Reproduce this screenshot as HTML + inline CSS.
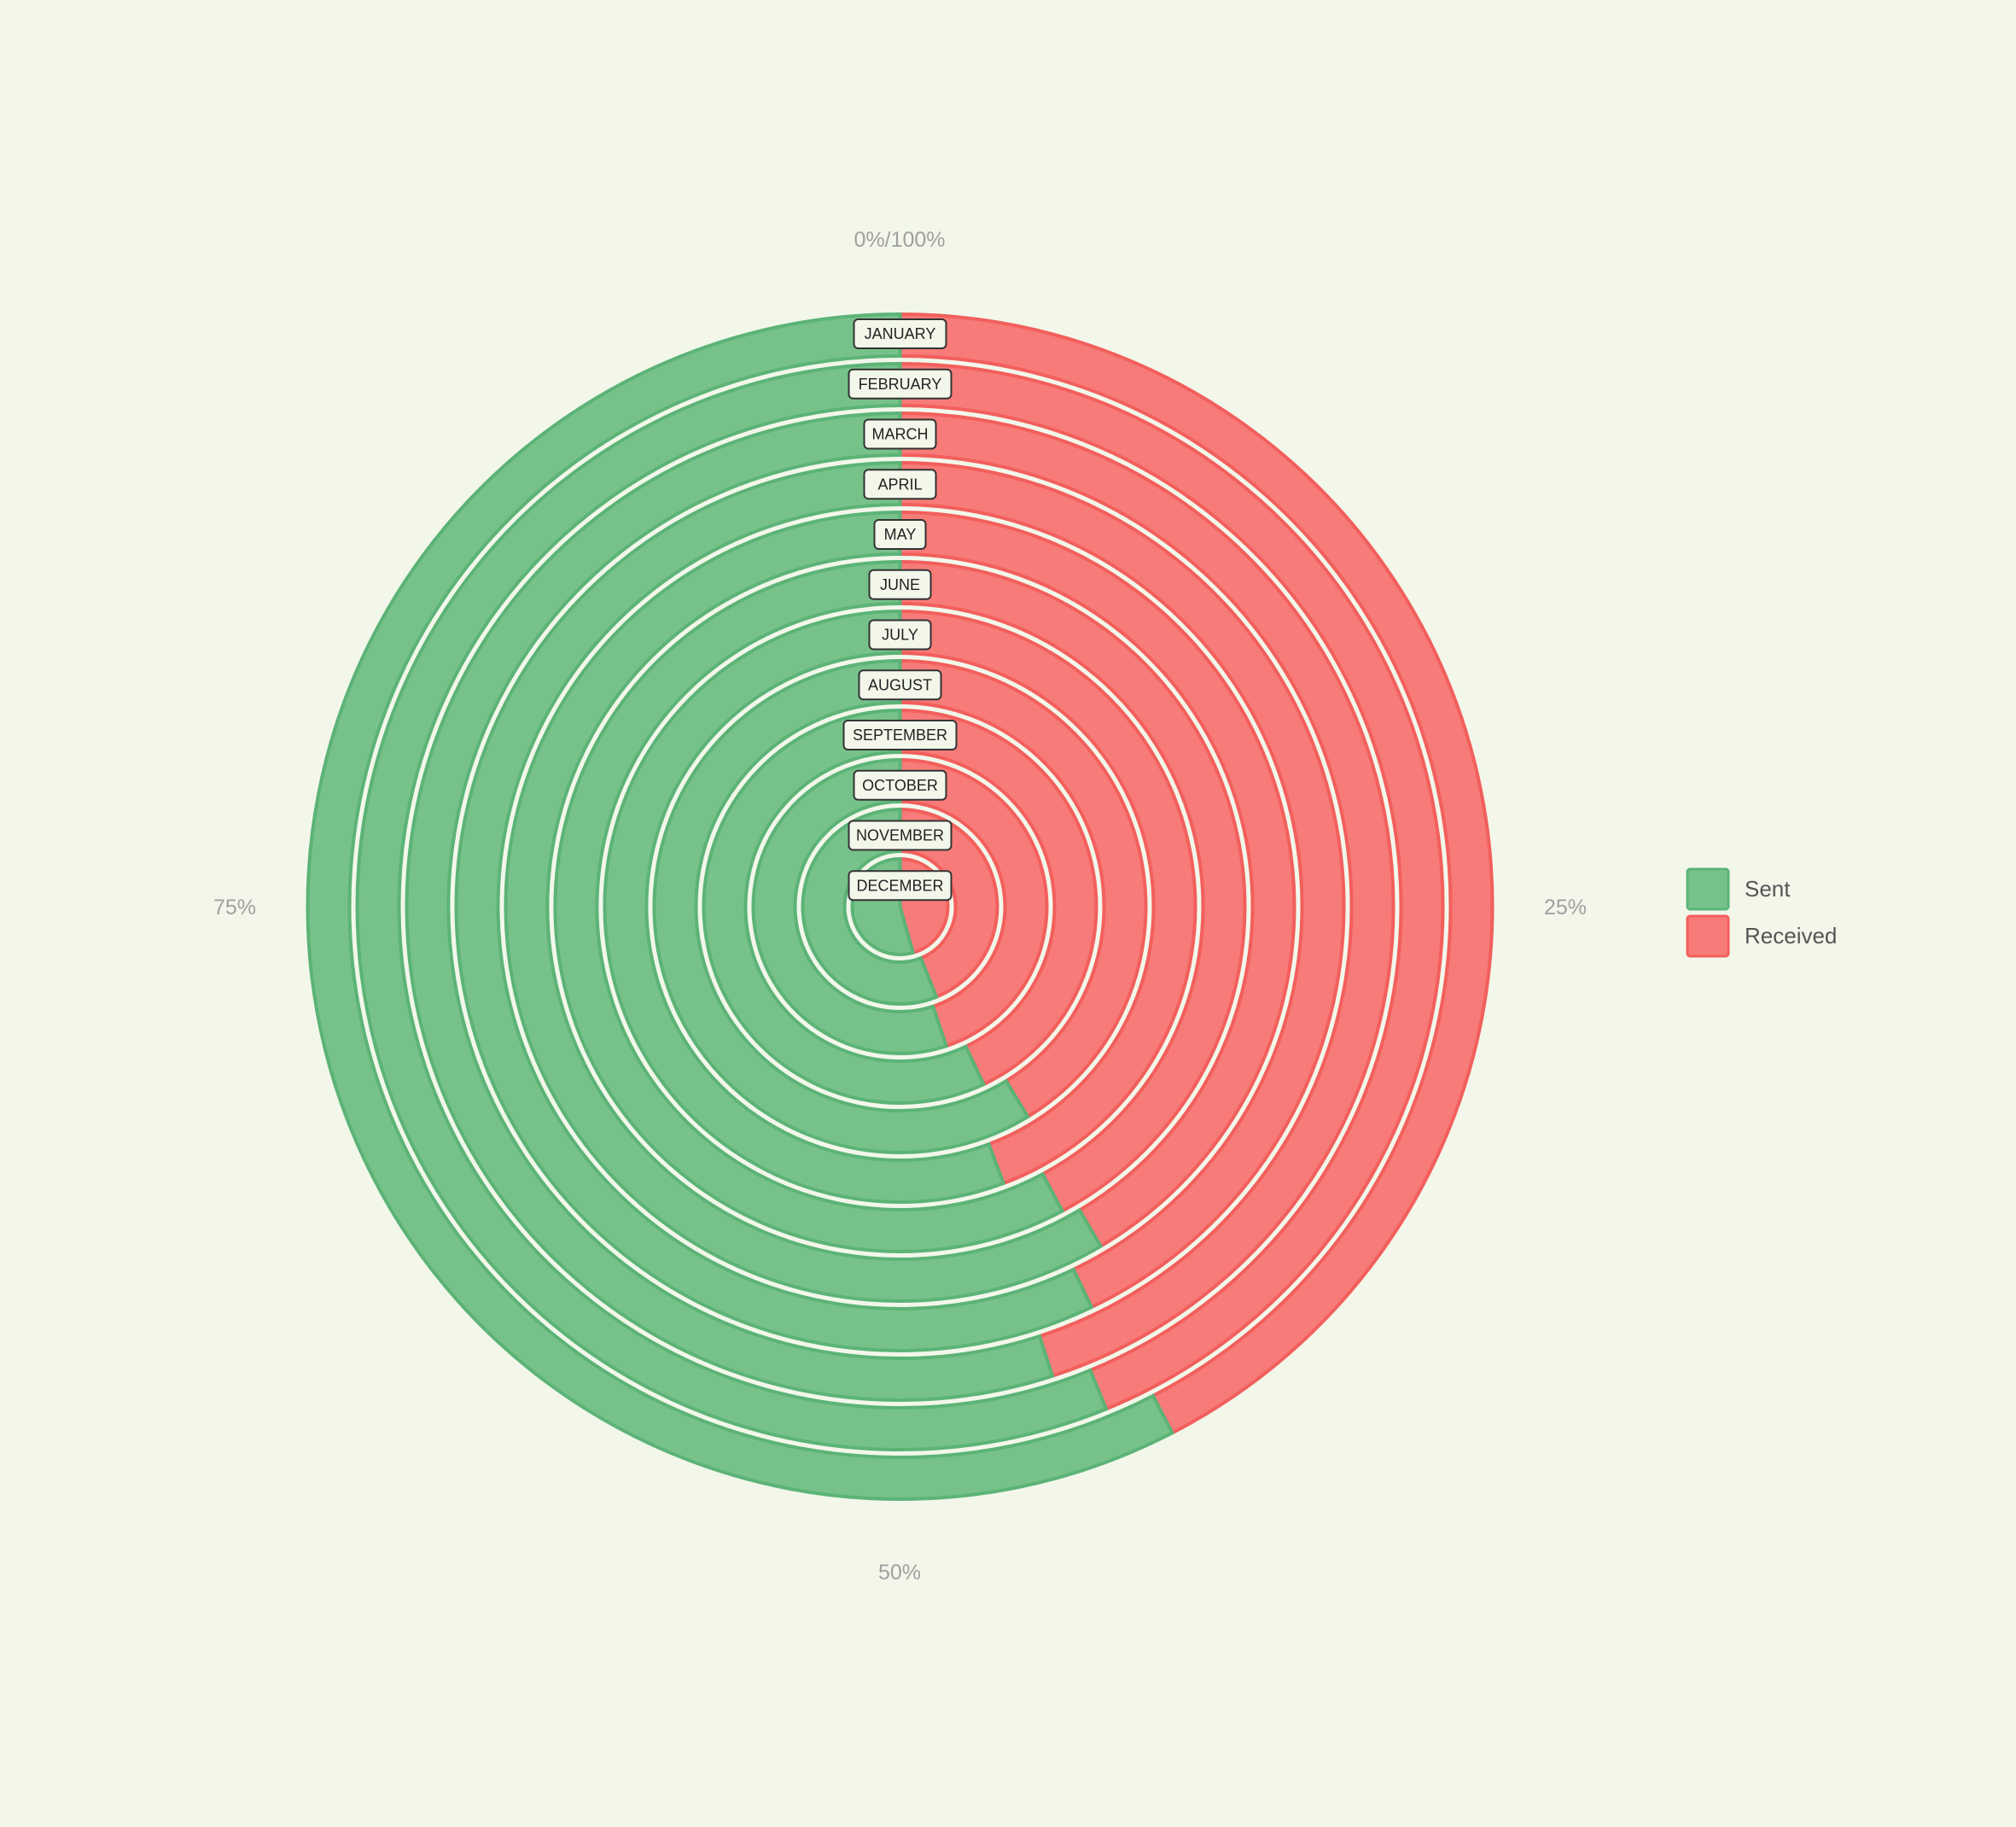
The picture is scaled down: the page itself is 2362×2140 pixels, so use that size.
<!DOCTYPE html>
<html><head><meta charset="utf-8">
<style>
html,body{margin:0;padding:0;background:#f2f7ea;}
svg{display:block;font-family:"Liberation Sans",sans-serif;}
</style></head>
<body>
<svg id="chart" width="2362" height="2140" viewBox="0 0 2362 2140">
<rect width="2362" height="2140" fill="#f2f7ea"/>
<g id="rings"></g>
<g id="labels"></g>
<g fill="#a0a0a0" font-size="25" text-anchor="middle">
<text x="1054" y="289">0%/100%</text>
<text x="1834" y="1071">25%</text>
<text x="1054" y="1850">50%</text>
<text x="275" y="1071">75%</text>
</g>
<g>
<g>
<rect x="1977" y="1018" width="48" height="47" rx="3" fill="#77c28a" stroke="#5cb377" stroke-width="3"/>
<text x="2044" y="1050" font-size="26" fill="#555">Sent</text>
</g>
<g>
<rect x="1977" y="1073" width="48" height="47" rx="3" fill="#f77b78" stroke="#f25f5c" stroke-width="3"/>
<text x="2044" y="1105" font-size="26" fill="#555">Received</text>
</g>
</g>
</svg>
<script>
const months = ["JANUARY","FEBRUARY","MARCH","APRIL","MAY","JUNE","JULY","AUGUST","SEPTEMBER","OCTOBER","NOVEMBER","DECEMBER"];
const received = [42.4,43.8,45.0,42.9,41.5,42.2,44.3,41.3,43.0,44.9,43.9,45.6];
const sent = [57.6,56.2,55.0,57.1,58.5,57.8,55.7,58.7,57.0,55.1,56.1,54.4];

const CX=1054.5, CY=1062, R=696, N=months.length, band=R/N;
const ns="http://www.w3.org/2000/svg";
function pt(r,pct){const a=pct/100*2*Math.PI;return [CX+r*Math.sin(a),CY-r*Math.cos(a)];}
function sector(r0,r1,p0,p1){
  const large=(p1-p0)>50?1:0;
  const a=pt(r1,p0),b=pt(r1,p1);
  if(r0<=0){
    return `M${CX},${CY}L${a[0]},${a[1]}A${r1},${r1} 0 ${large} 1 ${b[0]},${b[1]}Z`;
  }
  const c=pt(r0,p1),d=pt(r0,p0);
  return `M${a[0]},${a[1]}A${r1},${r1} 0 ${large} 1 ${b[0]},${b[1]}L${c[0]},${c[1]}A${r0},${r0} 0 ${large} 0 ${d[0]},${d[1]}Z`;
}
const rings=document.getElementById('rings'), labels=document.getElementById('labels');
for(let i=0;i<N;i++){
  const r1=band*(N-i)-2, r0=i===N-1?0:band*(N-1-i)+7;
  const tot=received[i]+sent[i];
  const rp=received[i]/tot*100;
  const pr=document.createElementNS(ns,'path');
  pr.setAttribute('d',sector(r0,r1,0,rp));
  pr.setAttribute('fill','#f77b78');pr.setAttribute('stroke','#f25f5c');pr.setAttribute('stroke-width','4');
  
  
  rings.appendChild(pr);
  const pg=document.createElementNS(ns,'path');
  pg.setAttribute('d',sector(r0,r1,rp,100));
  pg.setAttribute('fill','#77c28a');pg.setAttribute('stroke','#5cb377');pg.setAttribute('stroke-width','4');
  
  
  rings.appendChild(pg);
  const ly=391+58.75*i;
  const g=document.createElementNS(ns,'g');
  
  
  const t=document.createElementNS(ns,'text');
  t.setAttribute('x',CX);t.setAttribute('y',ly+6);
  t.setAttribute('text-anchor','middle');t.setAttribute('font-size','18');t.setAttribute('fill','#222');
  t.textContent=months[i];
  const w=months[i].length*12+24;
  const rc=document.createElementNS(ns,'rect');
  rc.setAttribute('x',CX-w/2);rc.setAttribute('y',ly-17);rc.setAttribute('width',w);rc.setAttribute('height',34);
  rc.setAttribute('rx','5');rc.setAttribute('fill','#f2f7ea');rc.setAttribute('stroke','#333');rc.setAttribute('stroke-width','2');
  g.appendChild(rc);g.appendChild(t);labels.appendChild(g);
}
</script>
</body></html>
